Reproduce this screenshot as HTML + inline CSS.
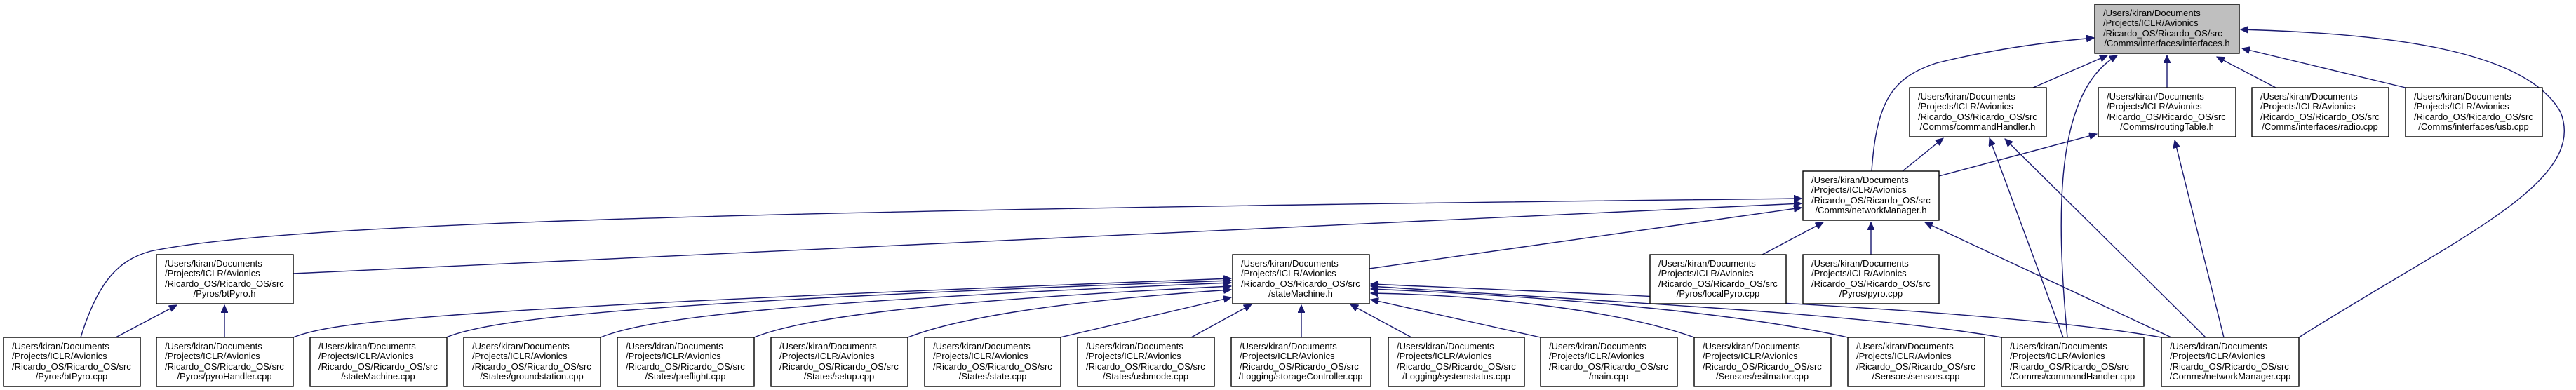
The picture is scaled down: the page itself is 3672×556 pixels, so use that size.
<!DOCTYPE html>
<html><head><meta charset="utf-8"><style>
html,body{margin:0;padding:0;background:#fff;}
svg{display:block;}
text{font-family:"Liberation Sans",Helvetica,Arial,sans-serif;font-size:13px;fill:#000;}
.e{fill:none;stroke:#191970;stroke-width:1.4;}
.b{fill:#fff;stroke:#000;stroke-width:1.4;}
</style></head><body>
<svg width="3672" height="556" viewBox="0 0 3672 556" xmlns="http://www.w3.org/2000/svg">
<defs><marker id="a" markerUnits="userSpaceOnUse" markerWidth="12" markerHeight="10" refX="11" refY="5" orient="auto"><path d="M0,0 L11,5 L0,10 z" fill="#191970" stroke="#191970"/></marker></defs>
<g class="e" marker-end="url(#a)">
<!-- into interfaces.h -->
<path d="M2668,244 C2675,140 2700,110 2760,90 Q2860,65 2985,54"/>
<path d="M2898,125 L3004,79"/>
<path d="M2947,481 C2930,300 2930,130 3018,79"/>
<path d="M3089,125 L3089,79"/>
<path d="M3244,125 L3160,81"/>
<path d="M3429,125 L3196,69"/>
<path d="M3277,481 C3500,340 3690,260 3650,160 C3600,70 3400,48 3194,42"/>
<!-- into commandHandler.h / routingTable.h -->
<path d="M2712,244 L2770,197"/>
<path d="M2764,251 L2989,191"/>
<path d="M2941,481 L2836,197"/>
<path d="M3144,481 L2858,198"/>
<path d="M3170,481 L3100,200"/>
<!-- into networkManager.h -->
<path d="M115,481 C140,400 170,370 215,358 C400,320 1000,300 2568,283"/>
<path d="M418,390 L2568,290"/>
<path d="M1952,383 L2568,296"/>
<path d="M2512,363 L2599,317"/>
<path d="M2667,363 L2667,317"/>
<path d="M3095,481 L2744,317"/>
<!-- into btPyro.h -->
<path d="M165,481 L252,435"/>
<path d="M320,481 L320,435"/>
<!-- into stateMachine.h -->
<path d="M418,481 C470,460 600,440 1755,397"/>
<path d="M636,481 C700,455 900,430 1755,400"/>
<path d="M856,481 C920,455 1100,430 1755,403"/>
<path d="M1075,481 C1140,455 1300,430 1755,408"/>
<path d="M1294,481 C1360,455 1500,430 1755,413"/>
<path d="M1511,481 L1755,424"/>
<path d="M1698,481 L1784,434"/>
<path d="M1855,481 L1855,435"/>
<path d="M2012,481 L1925,434"/>
<path d="M2196,481 L1954,427"/>
<path d="M2415,481 C2300,440 2100,420 1954,418"/>
<path d="M2634,481 C2450,440 2150,420 1954,412"/>
<path d="M2853,481 C2650,445 2200,425 1954,408"/>
<path d="M3081,481 C2850,440 2300,420 1954,405"/>
</g>
<!-- nodes -->
<g>
<rect x="2986" y="6" width="206" height="70" fill="#bfbfbf" stroke="#000" stroke-width="1.4"/>
<text x="2998" y="23">/Users/kiran/Documents</text><text x="2998" y="37">/Projects/ICLR/Avionics</text><text x="2998" y="52">/Ricardo_OS/Ricardo_OS/src</text><text x="3089" y="66" text-anchor="middle">/Comms/interfaces/interfaces.h</text>
</g>
<g>
<rect class="b" x="2722" y="125" width="195" height="70"/><text x="2734" y="142">/Users/kiran/Documents</text><text x="2734" y="156">/Projects/ICLR/Avionics</text><text x="2734" y="171">/Ricardo_OS/Ricardo_OS/src</text><text x="2819" y="185" text-anchor="middle">/Comms/commandHandler.h</text>
<rect class="b" x="2991" y="125" width="196" height="70"/><text x="3003" y="142">/Users/kiran/Documents</text><text x="3003" y="156">/Projects/ICLR/Avionics</text><text x="3003" y="171">/Ricardo_OS/Ricardo_OS/src</text><text x="3089" y="185" text-anchor="middle">/Comms/routingTable.h</text>
<rect class="b" x="3210" y="125" width="195" height="70"/><text x="3222" y="142">/Users/kiran/Documents</text><text x="3222" y="156">/Projects/ICLR/Avionics</text><text x="3222" y="171">/Ricardo_OS/Ricardo_OS/src</text><text x="3307" y="185" text-anchor="middle">/Comms/interfaces/radio.cpp</text>
<rect class="b" x="3429" y="125" width="195" height="70"/><text x="3441" y="142">/Users/kiran/Documents</text><text x="3441" y="156">/Projects/ICLR/Avionics</text><text x="3441" y="171">/Ricardo_OS/Ricardo_OS/src</text><text x="3526" y="185" text-anchor="middle">/Comms/interfaces/usb.cpp</text>
<rect class="b" x="2570" y="244" width="194" height="70"/><text x="2582" y="261">/Users/kiran/Documents</text><text x="2582" y="275">/Projects/ICLR/Avionics</text><text x="2582" y="290">/Ricardo_OS/Ricardo_OS/src</text><text x="2667" y="304" text-anchor="middle">/Comms/networkManager.h</text>
<rect class="b" x="223" y="363" width="195" height="70"/><text x="235" y="380">/Users/kiran/Documents</text><text x="235" y="394">/Projects/ICLR/Avionics</text><text x="235" y="409">/Ricardo_OS/Ricardo_OS/src</text><text x="320" y="423" text-anchor="middle">/Pyros/btPyro.h</text>
<rect class="b" x="1757" y="363" width="195" height="70"/><text x="1769" y="380">/Users/kiran/Documents</text><text x="1769" y="394">/Projects/ICLR/Avionics</text><text x="1769" y="409">/Ricardo_OS/Ricardo_OS/src</text><text x="1854" y="423" text-anchor="middle">/stateMachine.h</text>
<rect class="b" x="2352" y="363" width="194" height="70"/><text x="2364" y="380">/Users/kiran/Documents</text><text x="2364" y="394">/Projects/ICLR/Avionics</text><text x="2364" y="409">/Ricardo_OS/Ricardo_OS/src</text><text x="2449" y="423" text-anchor="middle">/Pyros/localPyro.cpp</text>
<rect class="b" x="2570" y="363" width="194" height="70"/><text x="2582" y="380">/Users/kiran/Documents</text><text x="2582" y="394">/Projects/ICLR/Avionics</text><text x="2582" y="409">/Ricardo_OS/Ricardo_OS/src</text><text x="2667" y="423" text-anchor="middle">/Pyros/pyro.cpp</text>
</g>
<g>
<rect class="b" x="5" y="481" width="195" height="70"/><text x="17" y="498">/Users/kiran/Documents</text><text x="17" y="512">/Projects/ICLR/Avionics</text><text x="17" y="527">/Ricardo_OS/Ricardo_OS/src</text><text x="102" y="541" text-anchor="middle">/Pyros/btPyro.cpp</text>
<rect class="b" x="223" y="481" width="195" height="70"/><text x="235" y="498">/Users/kiran/Documents</text><text x="235" y="512">/Projects/ICLR/Avionics</text><text x="235" y="527">/Ricardo_OS/Ricardo_OS/src</text><text x="320" y="541" text-anchor="middle">/Pyros/pyroHandler.cpp</text>
<rect class="b" x="442" y="481" width="195" height="70"/><text x="454" y="498">/Users/kiran/Documents</text><text x="454" y="512">/Projects/ICLR/Avionics</text><text x="454" y="527">/Ricardo_OS/Ricardo_OS/src</text><text x="539" y="541" text-anchor="middle">/stateMachine.cpp</text>
<rect class="b" x="661" y="481" width="195" height="70"/><text x="673" y="498">/Users/kiran/Documents</text><text x="673" y="512">/Projects/ICLR/Avionics</text><text x="673" y="527">/Ricardo_OS/Ricardo_OS/src</text><text x="758" y="541" text-anchor="middle">/States/groundstation.cpp</text>
<rect class="b" x="880" y="481" width="195" height="70"/><text x="892" y="498">/Users/kiran/Documents</text><text x="892" y="512">/Projects/ICLR/Avionics</text><text x="892" y="527">/Ricardo_OS/Ricardo_OS/src</text><text x="977" y="541" text-anchor="middle">/States/preflight.cpp</text>
<rect class="b" x="1099" y="481" width="195" height="70"/><text x="1111" y="498">/Users/kiran/Documents</text><text x="1111" y="512">/Projects/ICLR/Avionics</text><text x="1111" y="527">/Ricardo_OS/Ricardo_OS/src</text><text x="1196" y="541" text-anchor="middle">/States/setup.cpp</text>
<rect class="b" x="1318" y="481" width="194" height="70"/><text x="1330" y="498">/Users/kiran/Documents</text><text x="1330" y="512">/Projects/ICLR/Avionics</text><text x="1330" y="527">/Ricardo_OS/Ricardo_OS/src</text><text x="1415" y="541" text-anchor="middle">/States/state.cpp</text>
<rect class="b" x="1536" y="481" width="195" height="70"/><text x="1548" y="498">/Users/kiran/Documents</text><text x="1548" y="512">/Projects/ICLR/Avionics</text><text x="1548" y="527">/Ricardo_OS/Ricardo_OS/src</text><text x="1633" y="541" text-anchor="middle">/States/usbmode.cpp</text>
<rect class="b" x="1755" y="481" width="199" height="70"/><text x="1767" y="498">/Users/kiran/Documents</text><text x="1767" y="512">/Projects/ICLR/Avionics</text><text x="1767" y="527">/Ricardo_OS/Ricardo_OS/src</text><text x="1854" y="541" text-anchor="middle">/Logging/storageController.cpp</text>
<rect class="b" x="1979" y="481" width="194" height="70"/><text x="1991" y="498">/Users/kiran/Documents</text><text x="1991" y="512">/Projects/ICLR/Avionics</text><text x="1991" y="527">/Ricardo_OS/Ricardo_OS/src</text><text x="2076" y="541" text-anchor="middle">/Logging/systemstatus.cpp</text>
<rect class="b" x="2196" y="481" width="195" height="70"/><text x="2208" y="498">/Users/kiran/Documents</text><text x="2208" y="512">/Projects/ICLR/Avionics</text><text x="2208" y="527">/Ricardo_OS/Ricardo_OS/src</text><text x="2293" y="541" text-anchor="middle">/main.cpp</text>
<rect class="b" x="2415" y="481" width="195" height="70"/><text x="2427" y="498">/Users/kiran/Documents</text><text x="2427" y="512">/Projects/ICLR/Avionics</text><text x="2427" y="527">/Ricardo_OS/Ricardo_OS/src</text><text x="2512" y="541" text-anchor="middle">/Sensors/esitmator.cpp</text>
<rect class="b" x="2634" y="481" width="195" height="70"/><text x="2646" y="498">/Users/kiran/Documents</text><text x="2646" y="512">/Projects/ICLR/Avionics</text><text x="2646" y="527">/Ricardo_OS/Ricardo_OS/src</text><text x="2731" y="541" text-anchor="middle">/Sensors/sensors.cpp</text>
<rect class="b" x="2853" y="481" width="203" height="70"/><text x="2865" y="498">/Users/kiran/Documents</text><text x="2865" y="512">/Projects/ICLR/Avionics</text><text x="2865" y="527">/Ricardo_OS/Ricardo_OS/src</text><text x="2954" y="541" text-anchor="middle">/Comms/commandHandler.cpp</text>
<rect class="b" x="3081" y="481" width="196" height="70"/><text x="3093" y="498">/Users/kiran/Documents</text><text x="3093" y="512">/Projects/ICLR/Avionics</text><text x="3093" y="527">/Ricardo_OS/Ricardo_OS/src</text><text x="3179" y="541" text-anchor="middle">/Comms/networkManager.cpp</text>
</g>
</svg>
</body></html>
